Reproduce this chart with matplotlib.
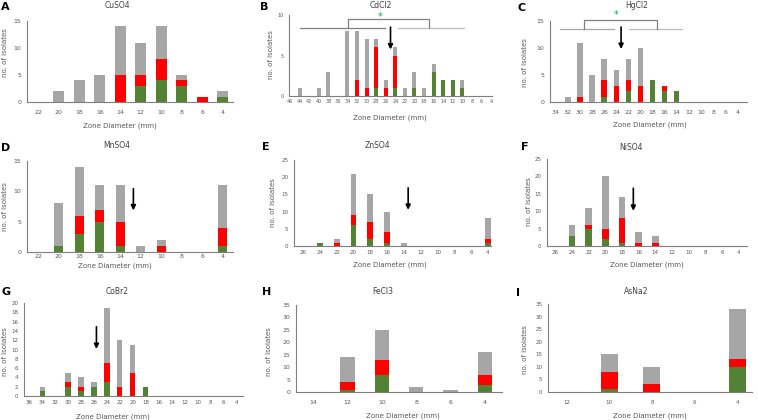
import numpy as np
import matplotlib
matplotlib.use('Agg')
import matplotlib.pyplot as plt

GREEN = '#548235'
RED = '#ff0000'
GRAY = '#a6a6a6'
TXT = '#595959'

W, H = 758, 420

# ---- data (green bottom, red middle, gray top) ----
cu_cats = [22, 20, 18, 16, 14, 12, 10, 8, 6, 4]
cu_green = [0, 0, 0, 0, 0, 3, 4, 3, 0, 1]
cu_red = [0, 0, 0, 0, 5, 2, 4, 1, 1, 0]
cu_gray = [0, 2, 4, 5, 9, 6, 6, 1, 0, 1]

cd_cats = list(range(46, 3, -2))
cd_green = [0, 0, 0, 0, 0, 0, 0, 0, 0, 1, 0, 1, 0, 1, 0, 3, 2, 2, 1, 0, 0, 0]
cd_red = [0, 0, 0, 0, 0, 0, 0, 2, 1, 5, 1, 4, 0, 0, 0, 0, 0, 0, 0, 0, 0, 0]
cd_gray = [0, 1, 0, 1, 3, 0, 8, 6, 6, 1, 1, 1, 1, 2, 1, 1, 0, 0, 1, 0, 0, 0]

hg_cats = list(range(34, 3, -2))
hg_green = [0, 0, 0, 0, 1, 0, 2, 0, 4, 2, 2, 0, 0, 0, 0, 0]
hg_red = [0, 0, 1, 0, 3, 3, 2, 3, 0, 1, 0, 0, 0, 0, 0, 0]
hg_gray = [0, 1, 10, 5, 4, 3, 4, 7, 0, 0, 0, 0, 0, 0, 0, 0]

mn_cats = [22, 20, 18, 16, 14, 12, 10, 8, 6, 4]
mn_green = [0, 1, 3, 5, 1, 0, 0, 0, 0, 1]
mn_red = [0, 0, 3, 2, 4, 0, 1, 0, 0, 3]
mn_gray = [0, 7, 8, 4, 6, 1, 1, 0, 0, 7]

zn_cats = list(range(26, 3, -2))
zn_green = [0, 1, 0, 6, 2, 1, 0, 0, 0, 0, 0, 1]
zn_red = [0, 0, 1, 3, 5, 3, 0, 0, 0, 0, 0, 1]
zn_gray = [0, 0, 1, 12, 8, 6, 1, 0, 0, 0, 0, 6]

ni_cats = list(range(26, 3, -2))
ni_green = [0, 3, 5, 2, 1, 0, 0, 0, 0, 0, 0, 0]
ni_red = [0, 0, 1, 3, 7, 1, 1, 0, 0, 0, 0, 0]
ni_gray = [0, 3, 5, 15, 6, 3, 2, 0, 0, 0, 0, 0]

co_cats = list(range(36, 3, -2))
co_green = [0, 1, 0, 2, 1, 2, 3, 0, 0, 2, 0, 0, 0, 0, 0, 0, 0]
co_red = [0, 0, 0, 1, 1, 0, 4, 2, 5, 0, 0, 0, 0, 0, 0, 0, 0]
co_gray = [0, 1, 0, 2, 2, 1, 12, 10, 6, 0, 0, 0, 0, 0, 0, 0, 0]

fe_cats = [14, 12, 10, 8, 6, 4]
fe_green = [0, 1, 7, 0, 0, 3]
fe_red = [0, 3, 6, 0, 0, 4]
fe_gray = [0, 10, 12, 2, 1, 9]

as_cats = [12, 10, 8, 6, 4]
as_green = [0, 1, 0, 0, 10]
as_red = [0, 7, 3, 0, 3]
as_gray = [0, 7, 7, 0, 20]


def px(x, y):
    return x / W, 1 - y / H


def panel(box, xlim, ylim, ystep, cats, g, r, gr, width, tick_fs=4.5, xpad=6):
    x0, x1, yt, yb = box
    ax = fig.add_axes([x0 / W, 1 - yb / H, (x1 - x0) / W, (yb - yt) / H])
    xs = np.arange(len(cats))
    g = np.array(g); r = np.array(r); gr = np.array(gr)
    ax.bar(xs, g, width, color=GREEN)
    ax.bar(xs, r, width, bottom=g, color=RED)
    ax.bar(xs, gr, width, bottom=g + r, color=GRAY)
    ax.set_xlim(*xlim)
    ax.set_ylim(0, ylim)
    ax.set_yticks(np.arange(0, ylim + 0.1, ystep))
    ax.set_xticks(xs)
    ax.set_xticklabels([str(c) for c in cats])
    for s in ['top', 'right']:
        ax.spines[s].set_visible(False)
    for s in ['left', 'bottom']:
        ax.spines[s].set_color('#7f7f7f')
        ax.spines[s].set_linewidth(0.8)
    ax.tick_params(length=0, labelsize=tick_fs, colors=TXT, pad=4)
    ax.tick_params(axis='x', pad=xpad)
    ax.patch.set_alpha(0)
    return ax


def labels(letter, lxy, title, txy, xlab, ylab):
    fig.text(*px(*lxy), letter, fontsize=8, fontweight='bold', ha='left', va='center')
    fig.text(*px(*txy), title, fontsize=5.5, color='#404040', ha='center', va='center')
    fig.text(*px(*xlab), 'Zone Diameter (mm)', fontsize=5, color=TXT, ha='center', va='center')
    fig.text(*px(*ylab), 'no. of isolates', fontsize=5, color=TXT, ha='center', va='center',
             rotation=90)


def arrow(ax, x, y0, y1):
    ax.annotate('', xy=(x, y1), xytext=(x, y0), annotation_clip=False,
                arrowprops=dict(arrowstyle='-|>', color='black', lw=1.2, mutation_scale=7))


fig = plt.figure(figsize=(7.58, 4.2), dpi=100)

# A
ax = panel((27, 233, 21, 102), (-0.55, 9.5), 15, 5, cu_cats, cu_green, cu_red, cu_gray, 0.52)
labels('A', (1, 7), 'CuSO4', (117, 6), (120, 126), (5, 53))

# B
ax = panel((289, 492, 15, 96), (-0.1, 21.1), 10, 5, cd_cats, cd_green, cd_red, cd_gray, 0.42,
           tick_fs=3.5, xpad=2.5)
ax.plot([1, 9.9], [8.35, 8.35], color='#808080', lw=0.9, clip_on=False)
ax.plot([11.3, 18.2], [8.35, 8.35], color='#bfbfbf', lw=0.9, clip_on=False)
ax.plot([6.1, 6.1, 14.5, 14.5], [8.35, 9.55, 9.55, 8.35], color='#808080', lw=0.9, clip_on=False)
ax.text(9.4, 9.7, '*', color='#00b050', fontsize=7, ha='center', va='center', clip_on=False)
arrow(ax, 10.5, 8.85, 5.4)
labels('B', (260, 7), 'CdCl2', (381, 5), (390, 118), (271, 55))

# C
ax = panel((550, 747, 21, 102), (-0.47, 15.8), 15, 5, hg_cats, hg_green, hg_red, hg_gray, 0.45)
ax.plot([0.36, 4.8], [13.5, 13.5], color='#a6a6a6', lw=0.9, clip_on=False)
ax.plot([6.06, 10.4], [13.5, 13.5], color='#bfbfbf', lw=0.9, clip_on=False)
ax.plot([2.37, 2.37, 8.4, 8.4], [13.5, 15.1, 15.1, 13.5], color='#808080', lw=0.9, clip_on=False)
ax.text(4.98, 16.1, '*', color='#00b050', fontsize=7, ha='center', va='center', clip_on=False)
arrow(ax, 5.4, 14.4, 9.3)
labels('C', (517, 8), 'HgCl2', (637, 6), (650, 125), (525, 63))

# D
ax = panel((27, 233, 161, 252), (-0.55, 9.5), 15, 5, mn_cats, mn_green, mn_red, mn_gray, 0.45,
           xpad=1.5)
arrow(ax, 4.64, 10.9, 6.4)
labels('D', (1, 148), 'MnSO4', (117, 146), (115, 266), (5, 207))

# E
ax = panel((294, 491, 160, 246), (-0.55, 11.2), 25, 5, zn_cats, zn_green, zn_red, zn_gray, 0.35,
           tick_fs=4, xpad=3)
arrow(ax, 6.26, 17.7, 9.7)
labels('E', (262, 147), 'ZnSO4', (377, 146), (390, 265), (273, 203))

# F
ax = panel((547, 747, 159, 246), (-0.5, 11.5), 25, 5, ni_cats, ni_green, ni_red, ni_gray, 0.4,
           tick_fs=4, xpad=3)
arrow(ax, 4.68, 17.4, 9.3)
labels('F', (521, 147), 'NiSO4', (631, 147), (647, 265), (529, 202))

# G
ax = panel((24, 243, 303, 396), (-0.4, 16.5), 20, 2, co_cats, co_green, co_red, co_gray, 0.4,
           tick_fs=4, xpad=3)
arrow(ax, 5.19, 15.5, 9.5)
labels('G', (1, 292), 'CoBr2', (117, 292), (113, 417), (5, 352))

# H
ax = panel((296, 502, 305, 392), (-0.5, 5.5), 35, 5, fe_cats, fe_green, fe_red, fe_gray, 0.41)
labels('H', (262, 292), 'FeCl3', (383, 292), (403, 416), (269, 352))

# I
ax = panel((548, 752, 304, 392), (-0.44, 4.35), 35, 5, as_cats, as_green, as_red, as_gray, 0.4,
           tick_fs=4)
labels('I', (516, 293), 'AsNa2', (636, 292), (650, 416), (525, 350))

fig.savefig('out.png', dpi=100)
